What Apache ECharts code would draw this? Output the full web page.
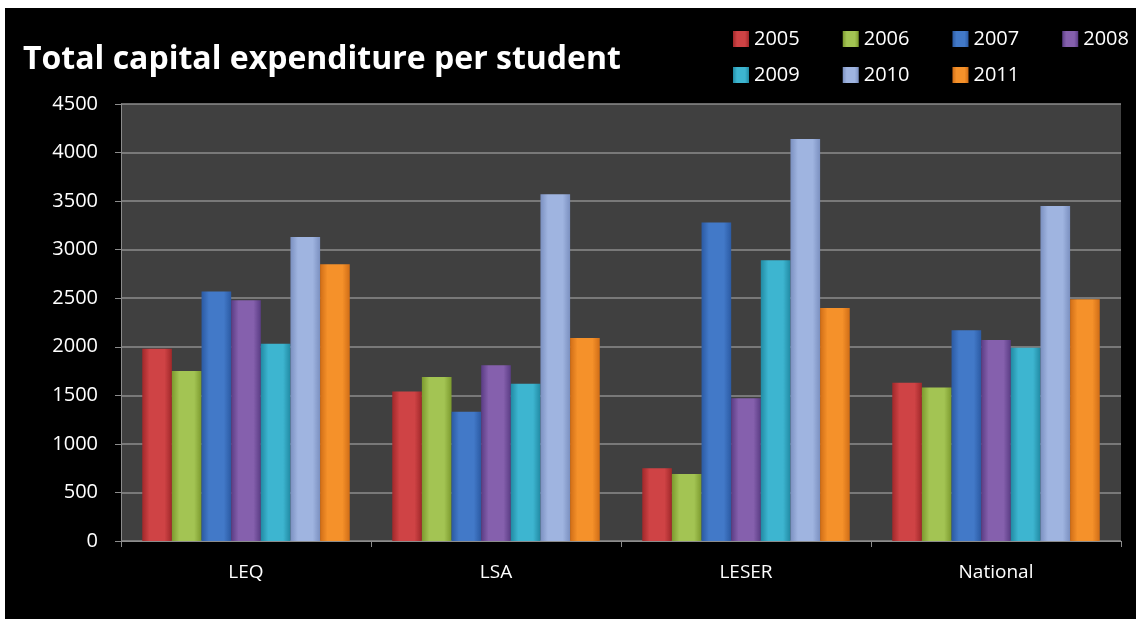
<!DOCTYPE html>
<html>
<head>
<meta charset="utf-8">
<script src="https://cdn.jsdelivr.net/npm/echarts@6/dist/echarts.min.js"></script>
<style>
  html, body { margin: 0; padding: 0; background: #fff; }
  #main { position: absolute; left: 5px; top: 8px; width: 1131px; height: 611px; }
</style>
</head>
<body>
<div id="main"></div>
<script>
// data
const regions = ['LEQ', 'LSA', 'LESER', 'National'];
const years = ['2005', '2006', '2007', '2008', '2009', '2010', '2011'];
const v2005 = [1980, 1540, 750, 1630];
const v2006 = [1750, 1690, 690, 1580];
const v2007 = [2570, 1330, 3280, 2170];
const v2008 = [2480, 1810, 1470, 2070];
const v2009 = [2030, 1620, 2890, 1990];
const v2010 = [3130, 3570, 4140, 3450];
const v2011 = [2850, 2090, 2400, 2490];
const yTicks = [0, 500, 1000, 1500, 2000, 2500, 3000, 3500, 4000, 4500];

const values = [v2005, v2006, v2007, v2008, v2009, v2010, v2011];
// edge / middle colours for the glassy bars
const colours = [
    ['#a0282a', '#cf4345'],
    ['#7c9a2e', '#a3c453'],
    ['#2b5aa3', '#4279c8'],
    ['#5a3c84', '#8560ad'],
    ['#218aa3', '#3db5d0'],
    ['#7b90c0', '#9fb4e0'],
    ['#d06d16', '#f5912a']
];

function glass(c) {
    return new echarts.graphic.LinearGradient(0, 0, 1, 0, [
        { offset: 0, color: c[0] },
        { offset: 0.25, color: c[1] },
        { offset: 0.75, color: c[1] },
        { offset: 1, color: c[0] }
    ]);
}

const font = '"Open Sans", sans-serif';
const chart = echarts.init(document.getElementById('main'));

const series = years.map((y, i) => ({
    name: y,
    type: 'bar',
    data: values[i],
    barGap: '0%',
    barCategoryGap: '17%',
    itemStyle: { color: glass(colours[i]) }
}));

// digits are tabular in Open Sans, so a fixed gap gives even columns
const legendCommon = {
    left: 728,
    padding: 0,
    itemWidth: 16,
    itemHeight: 16,
    itemGap: 43,
    icon: 'rect',
    textStyle: { color: '#fff', fontSize: 20, fontFamily: font }
};

chart.setOption({
    backgroundColor: '#000',
    animation: false,
    title: {
        text: 'Total capital expenditure per student',
        left: 13, top: 31,
        textStyle: { color: '#fff', fontSize: 32, fontWeight: 'bold', fontFamily: font }
    },
    legend: [
        Object.assign({ top: 21, data: years.slice(0, 4) }, legendCommon),
        Object.assign({ top: 57, data: years.slice(4) }, legendCommon)
    ],
    grid: {
        left: 116, right: 15, top: 96, bottom: 78,
        show: true, backgroundColor: '#404040', borderWidth: 0
    },
    xAxis: {
        type: 'category',
        data: regions,
        axisLine: { lineStyle: { color: '#8c8c8c', width: 1 } },
        axisTick: { show: true, length: 6, lineStyle: { color: '#8c8c8c' } },
        axisLabel: { color: '#fff', fontSize: 19, fontFamily: font, margin: 22 }
    },
    yAxis: {
        type: 'value',
        min: yTicks[0],
        max: yTicks[yTicks.length - 1],
        interval: 500,
        axisLine: { show: true, lineStyle: { color: '#8c8c8c', width: 1 } },
        axisTick: { show: true, length: 6, lineStyle: { color: '#8c8c8c' } },
        axisLabel: { color: '#fff', fontSize: 20, fontFamily: font, margin: 23, formatter: v => String(v) },
        splitLine: { lineStyle: { color: '#8c8c8c', width: 1.5 } }
    },
    series: series
});
</script>
</body>
</html>
